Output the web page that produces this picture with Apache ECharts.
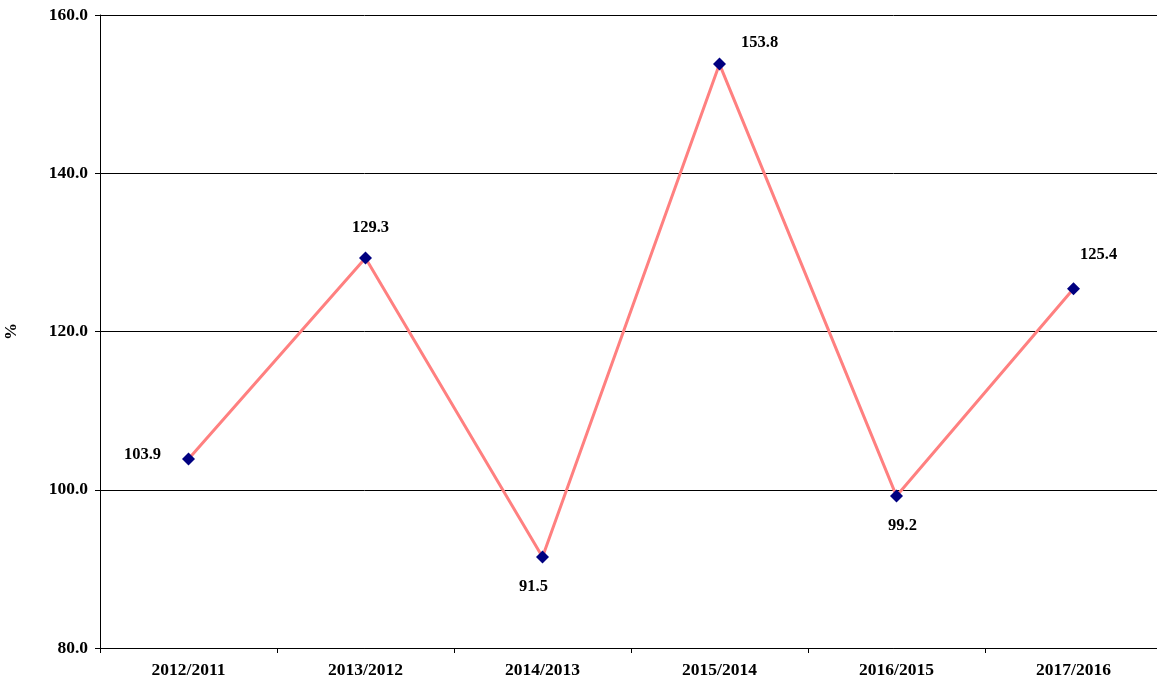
<!DOCTYPE html>
<html>
<head>
<meta charset="utf-8">
<script src="https://cdn.jsdelivr.net/npm/echarts@6/dist/echarts.min.js"></script>
<style>
  html, body { margin: 0; padding: 0; background: #fff; }
  #chart { width: 1157px; height: 686px; }
</style>
</head>
<body>
<div id="chart"></div>
<script>
var categories = ["2012/2011", "2013/2012", "2014/2013", "2015/2014", "2016/2015", "2017/2016"];
var values = [103.9, 129.3, 91.5, 153.8, 99.2, 125.4];
var yTicks = [80, 100, 120, 140, 160];

// label placement for each point (kept apart from the values)
var labelPos = [
    { position: "left", offset: [-16, -4] },
    { position: "top", offset: [5, -10] },
    { position: "bottom", offset: [-9, 10] },
    { position: "right", offset: [10, -21] },
    { position: "bottom", offset: [6, 10] },
    { position: "right", offset: [-5, -34] }
];

var font = "'Liberation Serif', 'Times New Roman', serif";
var myChart = echarts.init(document.getElementById("chart"));

var seriesData = values.map(function (v, i) {
    return {
        value: v,
        label: {
            position: labelPos[i].position,
            offset: labelPos[i].offset
        }
    };
});

var option = {
    animation: false,
    backgroundColor: "#fff",
    grid: { left: 100, top: 15, width: 1062, height: 633, containLabel: false, outerBoundsMode: "none" },
    xAxis: {
        type: "category",
        data: categories,
        boundaryGap: true,
        axisLine: { lineStyle: { color: "#000", width: 1 } },
        axisTick: { show: true, alignWithLabel: false, length: 5, lineStyle: { color: "#000" } },
        axisLabel: {
            color: "#000", fontFamily: font, fontWeight: "bold", fontSize: 17.5, margin: 13
        },
        splitLine: { show: false }
    },
    yAxis: {
        type: "value",
        min: yTicks[0],
        max: yTicks[yTicks.length - 1],
        interval: 20,
        name: "%",
        nameLocation: "middle",
        nameGap: 80,
        nameRotate: 90,
        nameTextStyle: { color: "#000", fontFamily: font, fontWeight: "bold", fontSize: 17 },
        axisLine: { show: true, lineStyle: { color: "#000", width: 1 } },
        axisTick: { show: true, length: 5, lineStyle: { color: "#000" } },
        axisLabel: {
            color: "#000", fontFamily: font, fontWeight: "bold", fontSize: 17.5, margin: 12,
            formatter: function (v) { return v.toFixed(1); }
        },
        splitLine: { show: true, lineStyle: { color: "#000", width: 1 } }
    },
    series: [
        {
            type: "line",
            data: seriesData,
            symbol: "diamond",
            symbolSize: 13,
            itemStyle: { color: "#000080" },
            lineStyle: { color: "#FF8080", width: 3 },
            label: {
                show: true,
                color: "#000",
                fontFamily: font,
                fontWeight: "bold",
                fontSize: 16.5,
                formatter: function (p) { return p.value.toFixed(1); }
            }
        }
    ]
};
myChart.setOption(option);
</script>
</body>
</html>
